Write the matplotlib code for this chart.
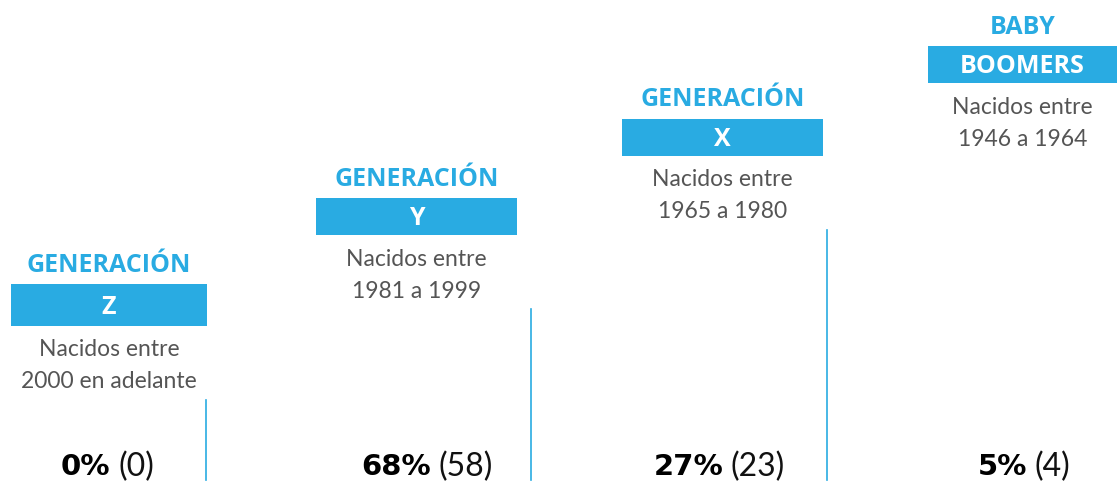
import matplotlib.pyplot as plt
from matplotlib.patches import Rectangle

# data
headers = ["GENERACIÓN", "GENERACIÓN", "GENERACIÓN", "BABY"]
band_labels = ["Z", "Y", "X", "BOOMERS"]
desc_line1 = ["Nacidos entre"] * 4
desc_line2 = ["2000 en adelante", "1981 a 1999", "1965 a 1980", "1946 a 1964"]
percents = [0, 68, 27, 5]
counts = [0, 58, 23, 4]

# layout (pixels), one step per generation
band_left = [11, 316, 622, 928]
band_right = [207, 517, 823, 1117]
band_top = [284, 198, 119, 46]
band_h = [42, 37, 37, 37]
line_x = [206, 531, 827, None]
value_split = [114, 435, 727, 1031]

BLUE = "#29abe2"
GREY = "#555555"

fig = plt.figure(figsize=(11.17, 4.83), dpi=100)
ax = fig.add_axes([0, 0, 1, 1])
ax.set_xlim(0, 1117)
ax.set_ylim(483, 0)
ax.axis("off")

for i in range(4):
    cx = (band_left[i] + band_right[i]) / 2
    top = band_top[i]
    h = band_h[i]
    ax.text(cx, top - 19, headers[i], ha="center", va="center", color=BLUE,
            fontsize=18, fontweight="bold", family="Open Sans")
    ax.add_patch(Rectangle((band_left[i], top), band_right[i] - band_left[i], h,
                           color=BLUE, lw=0))
    ax.text(cx, top + h / 2 + 2, band_labels[i], ha="center", va="center",
            color="white", fontsize=18, fontweight="bold", family="Open Sans")
    ax.text(cx, top + h + 24, desc_line1[i], ha="center", va="center",
            color=GREY, fontsize=16.5, fontweight="normal", family="Lato")
    ax.text(cx, top + h + 56, desc_line2[i], ha="center", va="center",
            color=GREY, fontsize=16.5, fontweight="normal", family="Lato")
    if line_x[i] is not None:
        ax.plot([line_x[i], line_x[i]], [top + h + 74, 480], color=BLUE, lw=1.2)
    ax.text(value_split[i] - 4, 467, f"{percents[i]}%", ha="right", va="center",
            color="black", fontsize=21, fontweight="bold", family="DejaVu Sans")
    ax.text(value_split[i] + 4, 467, f"({counts[i]})", ha="left", va="center",
            color="#111111", fontsize=23, fontweight="normal", family="Lato")

fig.savefig("out.png", dpi=100)
